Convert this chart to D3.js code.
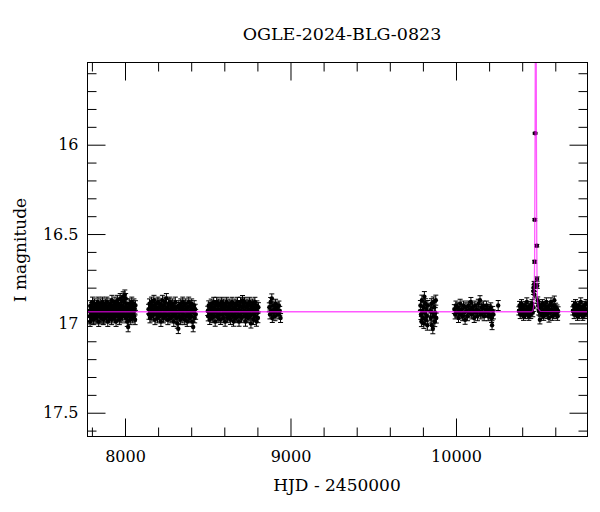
<!DOCTYPE html>
<html><head><meta charset="utf-8">
<script src="https://cdn.jsdelivr.net/npm/d3@7"></script>
<style>
body{margin:0;background:#fff}
svg{display:block}
text{font-family:'DejaVu Serif',serif;fill:#000}
</style>
</head><body>
<svg id="c" width="600" height="512"></svg>
<script>
// ---------------- data (HJD-2450000, I mag) ----------------
const title = "OGLE-2024-BLG-0823";
const xLabel = "HJD - 2450000";
const yLabel = "I magnitude";
const xMajor = [8000, 9000, 10000];
const yMajor = [16, 16.5, 17, 17.5];

const season1 = [[7785,16.93],[7787,16.96],[7789,16.99],[7791,16.90],[7794,16.94],[7796,16.97],[7799,16.91],[7801,16.95],[7804,16.88],[7806,16.93],[7809,16.98],[7811,16.92],[7814,16.95],[7816,16.89],[7819,16.96],[7821,16.91],[7824,16.94],[7826,16.97],[7829,16.90],[7831,16.93],[7834,16.96],[7836,16.88],[7839,16.92],[7841,16.99],[7844,16.94],[7846,16.91],[7849,16.96],[7851,16.89],[7854,16.93],[7856,16.97],[7859,16.91],[7861,16.95],[7864,16.88],[7866,16.93],[7869,16.98],[7871,16.90],[7874,16.95],[7876,16.92],[7879,16.97],[7881,16.89],[7884,16.94],[7886,16.91],[7889,16.96],[7891,16.88],[7894,16.93],[7896,16.99],[7899,16.92],[7901,16.95],[7904,16.90],[7906,16.97],[7909,16.93],[7911,16.89],[7914,16.95],[7916,16.92],[7919,16.98],[7921,16.87],[7924,16.94],[7926,16.91],[7929,16.96],[7931,16.90],[7934,16.93],[7936,16.97],[7939,16.88],[7941,16.95],[7944,16.92],[7946,16.99],[7949,16.90],[7951,16.94],[7954,16.87],[7956,16.96],[7959,16.92],[7961,16.89],[7964,16.95],[7966,16.98],[7969,16.91],[7971,16.86],[7974,16.94],[7976,16.97],[7979,16.90],[7981,16.87],[7984,16.93],[7986,16.96],[7989,16.85],[7991,16.92],[7994,16.88],[7996,16.95],[7999,16.84],[8001,16.91],[8004,16.86],[8006,16.97],[8009,16.93],[8011,16.89],[8014,16.99],[8016,16.95],[8019,17.02],[8021,16.91],[8024,16.96],[8026,16.89],[8029,16.94],[8031,16.98],[8034,16.92],[8036,16.90],[8039,16.95],[8041,16.88],[8044,16.93],[8046,16.97],[8049,16.91],[8051,16.94],[8054,16.89],[8056,16.96],[8059,16.92],[8061,16.98],[8063,16.90]];

const season2 = [[8142,16.92],[8145,16.95],[8148,16.89],[8151,16.97],[8154,16.91],[8157,16.94],[8160,16.88],[8163,16.96],[8166,16.92],[8169,16.90],[8172,16.95],[8175,16.87],[8178,16.93],[8181,16.98],[8184,16.91],[8187,16.89],[8190,16.95],[8193,16.92],[8196,16.97],[8199,16.88],[8202,16.94],[8205,16.91],[8208,16.96],[8211,16.89],[8214,16.93],[8217,16.99],[8220,16.90],[8223,16.95],[8226,16.87],[8229,16.92],[8232,16.97],[8235,16.90],[8238,16.94],[8241,16.88],[8244,16.96],[8247,16.92],[8250,16.86],[8253,16.95],[8256,16.91],[8259,16.98],[8262,16.89],[8265,16.93],[8268,16.96],[8271,16.88],[8274,16.92],[8277,16.97],[8280,16.90],[8283,16.94],[8286,16.89],[8289,16.96],[8292,16.92],[8295,16.99],[8298,16.91],[8301,16.95],[8304,16.88],[8307,16.93],[8310,16.97],[8313,16.91],[8316,17.00],[8319,16.94],[8322,17.03],[8325,16.90],[8328,16.96],[8331,16.92],[8334,16.98],[8337,16.89],[8340,16.94],[8343,16.91],[8346,16.97],[8349,16.88],[8352,16.93],[8355,16.95],[8358,16.90],[8361,16.98],[8364,16.92],[8367,16.89],[8370,16.96],[8373,16.93],[8376,16.99],[8379,16.91],[8382,16.95],[8385,16.88],[8388,16.94],[8391,16.97],[8394,16.90],[8397,16.93],[8400,16.96],[8403,16.89],[8406,16.99],[8409,16.92],[8412,17.02],[8415,16.94],[8418,16.90],[8421,16.97],[8424,16.92],[8427,16.95]];

const season3 = [[8500,16.93],[8503,16.96],[8506,16.90],[8509,16.94],[8512,16.98],[8515,16.91],[8518,16.95],[8521,16.89],[8524,16.93],[8527,16.97],[8530,16.91],[8533,16.94],[8536,16.88],[8539,16.96],[8542,16.92],[8545,16.99],[8548,16.90],[8551,16.94],[8554,16.88],[8557,16.96],[8560,16.92],[8563,16.97],[8566,16.89],[8569,16.93],[8572,16.95],[8575,16.90],[8578,16.98],[8581,16.92],[8584,16.88],[8587,16.95],[8590,16.91],[8593,16.97],[8596,16.89],[8599,16.94],[8602,16.92],[8605,16.99],[8608,16.90],[8611,16.95],[8614,16.88],[8617,16.93],[8620,16.97],[8623,16.91],[8626,16.94],[8629,16.89],[8632,16.96],[8635,16.92],[8638,16.98],[8641,16.90],[8644,16.94],[8647,16.88],[8650,16.95],[8653,16.92],[8656,16.99],[8659,16.91],[8662,16.96],[8665,16.89],[8668,16.93],[8671,16.97],[8674,16.90],[8677,16.94],[8680,16.88],[8683,16.96],[8686,16.92],[8689,16.99],[8692,16.90],[8695,16.95],[8698,16.88],[8701,16.93],[8704,16.97],[8707,16.91],[8710,16.87],[8713,16.94],[8716,16.90],[8719,16.96],[8722,16.88],[8725,16.93],[8728,16.99],[8731,16.91],[8734,16.95],[8737,16.89],[8740,16.94],[8743,16.97],[8746,16.90],[8749,16.93],[8752,16.88],[8755,16.96],[8758,16.92],[8761,17.00],[8764,16.90],[8767,16.95],[8770,16.89],[8773,16.93],[8776,16.98],[8779,16.91],[8782,16.94],[8785,16.88],[8788,16.96],[8791,16.92],[8794,16.99],[8797,16.90],[8800,16.94],[8803,16.97],[8806,16.91]];

const season4 = [[8872,16.91],[8876,16.95],[8880,16.88],[8884,16.93],[8887,16.86],[8890,16.97],[8894,16.90],[8898,16.94],[8902,16.92],[8906,16.96],[8910,16.89],[8915,16.93],[8920,16.91],[8925,16.95],[8930,16.90],[8935,16.93],[8940,16.97]];

const season5 = [[9785,16.90],[9788,16.95],[9791,16.99],[9794,16.87],[9797,16.93],[9800,16.97],[9803,16.91],[9806,17.00],[9809,16.85],[9812,16.94],[9815,16.89],[9818,16.98],[9821,16.92],[9824,16.96],[9827,17.01],[9830,16.90],[9845,16.93],[9848,16.97],[9851,16.89],[9854,17.01],[9857,16.94],[9860,17.03],[9863,16.88],[9866,16.96],[9869,16.91],[9872,16.99],[9875,16.94],[9878,16.87],[9881,16.97]];

const season6 = [[9990,16.92],[9995,16.95],[10000,16.90],[10005,16.94],[10010,16.91],[10015,16.97],[10020,16.93],[10025,16.89],[10030,16.95],[10035,16.92],[10040,16.96],[10045,16.90],[10050,16.94],[10055,16.98],[10060,16.91],[10065,16.93],[10070,16.96],[10075,16.90],[10080,16.94],[10085,16.92],[10090,16.88],[10095,16.95],[10100,16.91],[10105,16.93],[10110,16.97],[10115,16.90],[10120,16.94],[10125,16.92],[10130,16.96],[10135,16.89],[10140,16.93],[10145,16.87],[10150,16.95],[10155,16.91],[10160,16.94],[10165,16.90],[10170,16.96],[10175,16.92],[10180,16.94],[10185,16.90],[10190,16.93],[10195,16.96],[10200,16.92],[10205,16.95],[10210,16.91],[10215,16.97],[10218,17.01],[10222,16.93],[10226,16.95]];

const season7 = [[10255,16.90]];

const season8 = [[10380,16.93],[10384,16.90],[10388,16.95],[10392,16.92],[10396,16.89],[10400,16.94],[10404,16.91],[10408,16.96],[10412,16.93],[10416,16.90],[10420,16.95],[10424,16.92],[10428,16.88],[10432,16.94],[10436,16.91],[10440,16.96],[10444,16.93],[10448,16.90],[10452,16.95],[10456,16.92],[10460,16.89],[10464,16.94],[10468,16.91],[10500,16.93],[10504,16.90],[10507,16.98],[10510,16.94],[10514,16.91],[10518,16.95],[10522,16.89],[10526,16.93],[10530,16.96],[10534,16.90],[10538,16.94],[10542,16.92],[10546,16.88],[10550,16.95],[10554,16.91],[10558,16.93],[10562,16.97],[10566,16.90],[10570,16.94],[10574,16.88],[10578,16.92],[10582,16.96],[10586,16.90],[10590,16.93],[10594,16.87],[10598,16.95],[10602,16.91],[10606,16.94],[10610,16.92],[10614,16.96],[10617,16.93]];

const season9 = [[10706,16.93],[10710,16.90],[10714,16.95],[10718,16.92],[10722,16.89],[10726,16.94],[10730,16.91],[10734,16.96],[10738,16.93],[10742,16.90],[10746,16.95],[10750,16.92],[10754,16.88],[10758,16.94],[10762,16.91],[10766,16.96],[10770,16.93],[10774,16.90],[10778,16.95],[10782,16.92],[10786,16.89],[10790,16.94]];

// per-season typical error (mag)
const seasonErr = [0.027, 0.027, 0.026, 0.025, 0.028, 0.025, 0.028, 0.023, 0.023];

// peak points: [HJD, I, err]
const peakPts = [[10468,16.82,0.018],[10470,16.80,0.016],[10472,16.78,0.015],[10474,16.84,0.018],[10475,16.655,0.008],[10476,16.42,0.006],[10478,15.936,0.005],[10488,16.565,0.007],[10490,16.752,0.012],[10491,16.79,0.014],[10494,16.87,0.018],[10497,16.90,0.02]];

// fitted model curve
const model = [[7773,16.935],[10455,16.935],[10465,16.93],[10470,16.90],[10473,16.80],[10475,16.66],[10476,16.42],[10478,15.94],[10480,15.2],[10482,14.8],[10484,15.2],[10486,16.0],[10488,16.56],[10490,16.78],[10493,16.88],[10498,16.92],[10510,16.933],[10795,16.935]];

// ---------------- drawing ----------------
const svg = d3.select('#c');
const L = 87.5, R = 587.5, T = 62.5, B = 436.5;
const x = d3.scaleLinear().domain([7773.4, 10794.6]).range([L, R]);
const y = d3.scaleLinear().domain([15.540, 17.633]).range([T, B]);

svg.append('defs').append('clipPath').attr('id','clip')
  .append('rect').attr('x',L).attr('y',T).attr('width',R-L).attr('height',B-T);

const seasons = [season1,season2,season3,season4,season5,season6,season7,season8,season9];
const pts = [];
seasons.forEach((s,i) => s.forEach(p => pts.push({t:p[0], m:p[1], e:seasonErr[i]})));
peakPts.forEach(p => pts.push({t:p[0], m:p[1], e:p[2]}));

const plot = svg.append('g').attr('clip-path','url(#clip)');
const cap = 2.5;
const eb = plot.append('g').attr('stroke','#000').attr('stroke-width',1).attr('fill','none');
eb.selectAll('path').data(pts).join('path')
  .attr('d', d => {
    const cx = x(d.t), y1 = y(d.m - d.e), y2 = y(d.m + d.e);
    return `M${cx},${y1}V${y2}M${cx-cap},${y1}H${cx+cap}M${cx-cap},${y2}H${cx+cap}`;
  });
plot.append('g').selectAll('circle').data(pts).join('circle')
  .attr('cx', d => x(d.t)).attr('cy', d => y(d.m)).attr('r', 2.2).attr('fill','#000');

plot.append('path').datum(model)
  .attr('d', d3.line().x(d => x(d[0])).y(d => y(d[1])))
  .attr('fill','none').attr('stroke','#ff00ff').attr('stroke-width',1.3).attr('stroke-opacity',0.65);

// axes (inward ticks on all four sides)
const xMinor = d3.range(7800, 10800, 200).filter(v => v % 1000 !== 0);
const yMinor = d3.range(156, 177).map(v => v/10).filter(v => Math.abs(v*2 - Math.round(v*2)) > 1e-6);

function style(g){ g.select('.domain').remove(); g.selectAll('text').attr('font-family',"'DejaVu Serif', serif").attr('font-size',16).attr('fill','#000'); }

svg.append('g').attr('transform',`translate(0,${B})`)
  .call(d3.axisBottom(x).tickValues(xMajor).tickSize(-18).tickPadding(14).tickFormat(d3.format('d'))).call(style);
svg.append('g').attr('transform',`translate(0,${B})`)
  .call(d3.axisBottom(x).tickValues(xMinor).tickSize(-9).tickFormat('')).call(style);
svg.append('g').attr('transform',`translate(0,${T})`)
  .call(d3.axisTop(x).tickValues(xMajor).tickSize(-18).tickFormat('')).call(style);
svg.append('g').attr('transform',`translate(0,${T})`)
  .call(d3.axisTop(x).tickValues(xMinor).tickSize(-9).tickFormat('')).call(style);
svg.append('g').attr('transform',`translate(${L},0)`)
  .call(d3.axisLeft(y).tickValues(yMajor).tickSize(-18).tickPadding(9).tickFormat(d => String(d))).call(style);
svg.append('g').attr('transform',`translate(${L},0)`)
  .call(d3.axisLeft(y).tickValues(yMinor).tickSize(-9).tickFormat('')).call(style);
svg.append('g').attr('transform',`translate(${R},0)`)
  .call(d3.axisRight(y).tickValues(yMajor).tickSize(-18).tickFormat('')).call(style);
svg.append('g').attr('transform',`translate(${R},0)`)
  .call(d3.axisRight(y).tickValues(yMinor).tickSize(-9).tickFormat('')).call(style);

svg.append('rect').attr('x',L).attr('y',T).attr('width',R-L).attr('height',B-T)
  .attr('fill','none').attr('stroke','#000').attr('stroke-width',1);

svg.append('text').attr('x',342).attr('y',40).attr('text-anchor','middle').attr('font-size',17.5).text(title);
svg.append('text').attr('x',337).attr('y',491).attr('text-anchor','middle').attr('font-size',17).text(xLabel);
svg.append('text').attr('transform','translate(26,250) rotate(-90)').attr('text-anchor','middle').attr('font-size',17).text(yLabel);
</script>
</body></html>
